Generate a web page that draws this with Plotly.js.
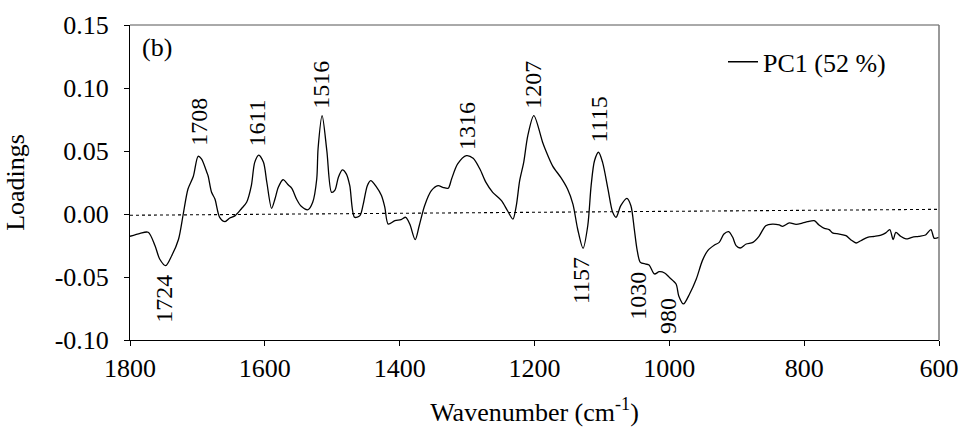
<!DOCTYPE html>
<html>
<head>
<meta charset="utf-8">
<script src="https://cdn.plot.ly/plotly-3.0.1.min.js"></script>
<style>html,body{margin:0;padding:0;background:#fff;}#chart{width:965px;height:441px;}</style>
</head>
<body>
<div id="chart"></div>
<script>
// Wavenumber (cm-1) and PC1 loadings
const wavenumber = [1800,1785,1773,1763,1756,1747,1738,1728,1721,1714,1706,1699,1694,1686,1684,1679,1674,1667,1659,1652,1644,1635,1627,1620,1615,1609,1602,1597,1590,1585,1580,1573,1565,1560,1553,1546,1536,1529,1523,1521,1515,1508,1501,1496,1491,1485,1479,1474,1467,1459,1454,1448,1443,1435,1427,1422,1417,1407,1398,1391,1385,1377,1371,1363,1353,1343,1336,1328,1323,1314,1301,1291,1281,1272,1262,1249,1240,1232,1227,1222,1216,1210,1201,1188,1183,1173,1161,1151,1143,1136,1128,1121,1116,1111,1105,1099,1091,1084,1079,1072,1063,1057,1052,1048,1043,1035,1030,1022,1015,1007,1000,990,986,979,970,960,951,943,933,926,919,912,906,901,895,886,876,867,857,847,837,832,822,812,802,795,785,778,770,763,758,748,738,731,723,716,706,696,686,679,673,668,664,657,649,640,630,620,612,607,600];
const pc1Loadings = [-0.0177,-0.0153,-0.0145,-0.025,-0.0357,-0.041,-0.033,-0.020,0.0,0.0198,0.030,0.0458,0.0437,0.033,0.030,0.0172,0.0119,-0.0026,-0.006,-0.0032,-0.0013,0.004,0.0093,0.0225,0.041,0.0468,0.041,0.025,0.0045,0.0119,0.0212,0.0272,0.023,0.0204,0.0119,0.0061,0.0034,0.0093,0.0278,0.052,0.078,0.050,0.0172,0.019,0.029,0.035,0.0317,0.0225,-0.0026,-0.0013,0.0079,0.0225,0.0265,0.022,0.0146,0.0053,-0.008,-0.0053,-0.0045,-0.0026,-0.008,-0.0204,-0.0093,0.0066,0.0185,0.0225,0.0212,0.0204,0.0278,0.0397,0.0463,0.0442,0.0357,0.0251,0.0172,0.0106,0.0026,-0.004,0.0066,0.0265,0.041,0.062,0.078,0.057,0.050,0.038,0.029,0.0198,0.0079,-0.0119,-0.0272,-0.0093,0.0225,0.0423,0.049,0.041,0.0198,0.0013,-0.0026,0.0066,0.0124,0.0066,-0.0119,-0.0278,-0.0384,-0.0397,-0.0405,-0.0476,-0.0458,-0.0468,-0.0503,-0.0556,-0.065,-0.0714,-0.0635,-0.0516,-0.037,-0.029,-0.0246,-0.0225,-0.0159,-0.014,-0.0185,-0.0251,-0.027,-0.0238,-0.0225,-0.0177,-0.0093,-0.008,-0.0087,-0.0098,-0.0071,-0.0082,-0.0071,-0.0061,-0.0053,-0.0087,-0.0114,-0.0124,-0.015,-0.0159,-0.0172,-0.0204,-0.023,-0.0212,-0.0185,-0.0177,-0.0167,-0.015,-0.0124,-0.0204,-0.0146,-0.0177,-0.0198,-0.0185,-0.0177,-0.0167,-0.0124,-0.0193,-0.0185];
// dotted baseline
const baselineX = [1800, 600];
const baselineY = [-0.001, 0.0037];
// peak labels
const peakLabels = ['1708','1611','1516','1316','1207','1115','1724','1157','1030','980'];
const peakLabelX = [1698,1613,1516,1301,1202,1105,1750,1131,1047,1002];
const peakLabelY = [0.073,0.0718,0.103,0.0702,0.1026,0.0746,-0.0675,-0.0532,-0.0651,-0.081];
const xTicks = [1800,1600,1400,1200,1000,800,600];
const yTicks = [-0.10,-0.05,0.00,0.05,0.10,0.15];
const seriesName = 'PC1 (52 %)';

const FONT = '"Liberation Serif", "Times New Roman", Times, serif';

const traces = [
  {x: baselineX, y: baselineY, mode: 'lines', line: {color: '#000', width: 1.1, dash: 'dot'}, showlegend: false, hoverinfo: 'skip'},
  {x: wavenumber, y: pc1Loadings, mode: 'lines', name: seriesName, line: {color: '#000', width: 1.3, shape: 'spline', smoothing: 0.8}}
];

const annotations = peakLabels.map((t, i) => ({
  x: peakLabelX[i], y: peakLabelY[i], xref: 'x', yref: 'y', text: t, showarrow: false,
  textangle: -90, font: {family: FONT, size: 24, color: '#000'}
}));
annotations.push({xref: 'paper', yref: 'paper', x: 0.012, y: 0.927, xanchor: 'left', yanchor: 'middle', text: '(b)', showarrow: false, font: {family: FONT, size: 26, color: '#000'}});

const layout = {
  width: 965, height: 441,
  margin: {l: 130, r: 26, t: 25, b: 101},
  paper_bgcolor: '#fff', plot_bgcolor: '#fff',
  font: {family: FONT, size: 26, color: '#000'},
  showlegend: true,
  legend: {x: 0.733, y: 0.883, xanchor: 'left', yanchor: 'middle', bgcolor: 'rgba(0,0,0,0)', font: {family: FONT, size: 26, color: '#000'}},
  xaxis: {
    range: [1800, 600], tickvals: xTicks, ticktext: xTicks.map(String),
    showgrid: false, zeroline: false, showline: true, linecolor: '#000', linewidth: 1,
    ticks: 'outside', ticklen: 5, tickcolor: '#000',
    tickfont: {family: FONT, size: 26, color: '#000'},
    title: {text: 'Wavenumber (cm<sup>-1</sup>)', font: {family: FONT, size: 26, color: '#000'}, standoff: 20}
  },
  yaxis: {
    range: [-0.10, 0.15], tickvals: yTicks, ticktext: yTicks.map(v => v.toFixed(2)),
    showgrid: false, zeroline: false, showline: true, linecolor: '#000', linewidth: 1,
    ticks: 'outside', ticklen: 5, tickcolor: '#000', ticklabelstandoff: 10,
    tickfont: {family: FONT, size: 26, color: '#000'},
    title: {text: 'Loadings', font: {family: FONT, size: 26, color: '#000'}, standoff: 22}
  },
  shapes: [
    {type: 'line', xref: 'paper', yref: 'paper', x0: 0, x1: 1, y0: 1, y1: 1, line: {color: '#555', width: 1}},
    {type: 'line', xref: 'paper', yref: 'paper', x0: 1, x1: 1, y0: 0, y1: 1, line: {color: '#777', width: 1.5}}
  ],
  annotations: annotations
};

Plotly.newPlot('chart', traces, layout, {displayModeBar: false, staticPlot: true});
</script>
</body>
</html>
